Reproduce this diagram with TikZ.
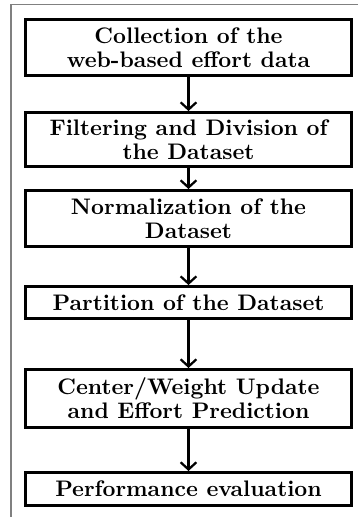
\documentclass[tikz,border=0pt]{standalone}
\usetikzlibrary{arrows.meta}
\begin{document}
\begin{tikzpicture}[x=0.445pt,y=-0.445pt,
  stage/.style={draw, line width=1.33pt, minimum width=145pt, inner sep=0pt,
    align=center, font={\fontsize{10}{10.6}\selectfont\bfseries}},
  flow/.style={line width=1pt, -{Straight Barb[length=3.2pt,width=7pt,line width=1pt]}}]
\useasboundingbox (0,0) rectangle (358,517);
% open page frame
\draw[gray, line width=0.5pt] (358,4.5) -- (11,4.5) -- (11,517);
% process stages
\node[stage, minimum height=24.9pt] (b1) at (188.5,47.5) {Collection of the\\web-based effort data};
\node[stage, minimum height=24pt] (b2) at (188.5,139.5) {Filtering and Division of\\the Dataset};
\node[stage, minimum height=24.9pt] (b3) at (188.5,218.5) {Normalization of the\\Dataset};
\node[stage, minimum height=14.2pt] (b4) at (188.5,302.5) {Partition of the Dataset};
\node[stage, minimum height=25.8pt] (b5) at (188.5,398.5) {Center/Weight Update\\and Effort Prediction};
\node[stage, minimum height=14.7pt] (b6) at (188.5,489) {Performance evaluation};
% connectors
\draw[flow] (b1) -- (b2);
\draw[flow] (b2) -- (b3);
\draw[flow] (b3) -- (b4);
\draw[flow] (b4) -- (b5);
\draw[flow] (b5) -- (b6);
\end{tikzpicture}
\end{document}
